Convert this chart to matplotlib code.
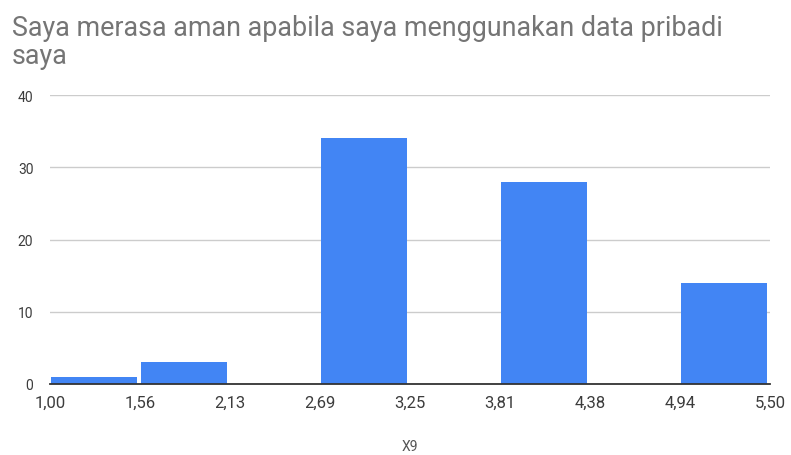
import numpy as np
import matplotlib.pyplot as plt

# histogram data
bin_edges = [1.00, 1.5625, 2.125, 2.6875, 3.25, 3.8125, 4.375, 4.9375, 5.50]
counts = [1, 3, 0, 34, 0, 28, 0, 14]
tick_labels = ["1,00", "1,56", "2,13", "2,69", "3,25", "3,81", "4,38", "4,94", "5,50"]
y_ticks = [0, 10, 20, 30, 40]

title_lines = ["Saya merasa aman apabila saya menggunakan data pribadi", "saya"]
x_label = "X9"

plt.rcParams['font.family'] = ['Roboto', 'DejaVu Sans']

fig = plt.figure(figsize=(7.91, 4.56), dpi=100)
ax = fig.add_axes([50 / 791, (456 - 385) / 456, 720 / 791, (385 - 96) / 456])

edges = np.array(bin_edges)
widths = np.diff(edges)
ax.bar(edges[:-1] + widths * 0.012, counts, width=widths * 0.955, align='edge',
       color='#4285F4', zorder=3)

ax.set_xlim(edges[0], edges[-1])
ax.set_ylim(0, 40)
ax.set_xticks(edges)
ax.set_xticklabels(tick_labels, fontsize=12, color='#3c3c3c')
ax.set_yticks(y_ticks)
ax.set_yticklabels([str(v) for v in y_ticks], fontsize=10, color='#3c3c3c')
ax.tick_params(axis='x', length=0, pad=8)
ax.tick_params(axis='y', length=0, pad=12)

ax.grid(axis='y', color='#cccccc', linewidth=1, zorder=0)
for s in ['top', 'right', 'left']:
    ax.spines[s].set_visible(False)
ax.spines['bottom'].set_color('#333333')
ax.spines['bottom'].set_linewidth(1.3)
ax.spines['bottom'].set_zorder(4)

# title drawn as two lines to match the wrapped spacing
for line, base_y in zip(title_lines, [36, 64]):
    fig.text(12 / 791, 1 - base_y / 456, line, fontsize=19.4, color='#757575',
             ha='left', va='baseline')
fig.text(410 / 791, 1 - 447 / 456, x_label, fontsize=10, color='#555555',
         ha='center', va='center')

fig.savefig('out.png', dpi=100)
